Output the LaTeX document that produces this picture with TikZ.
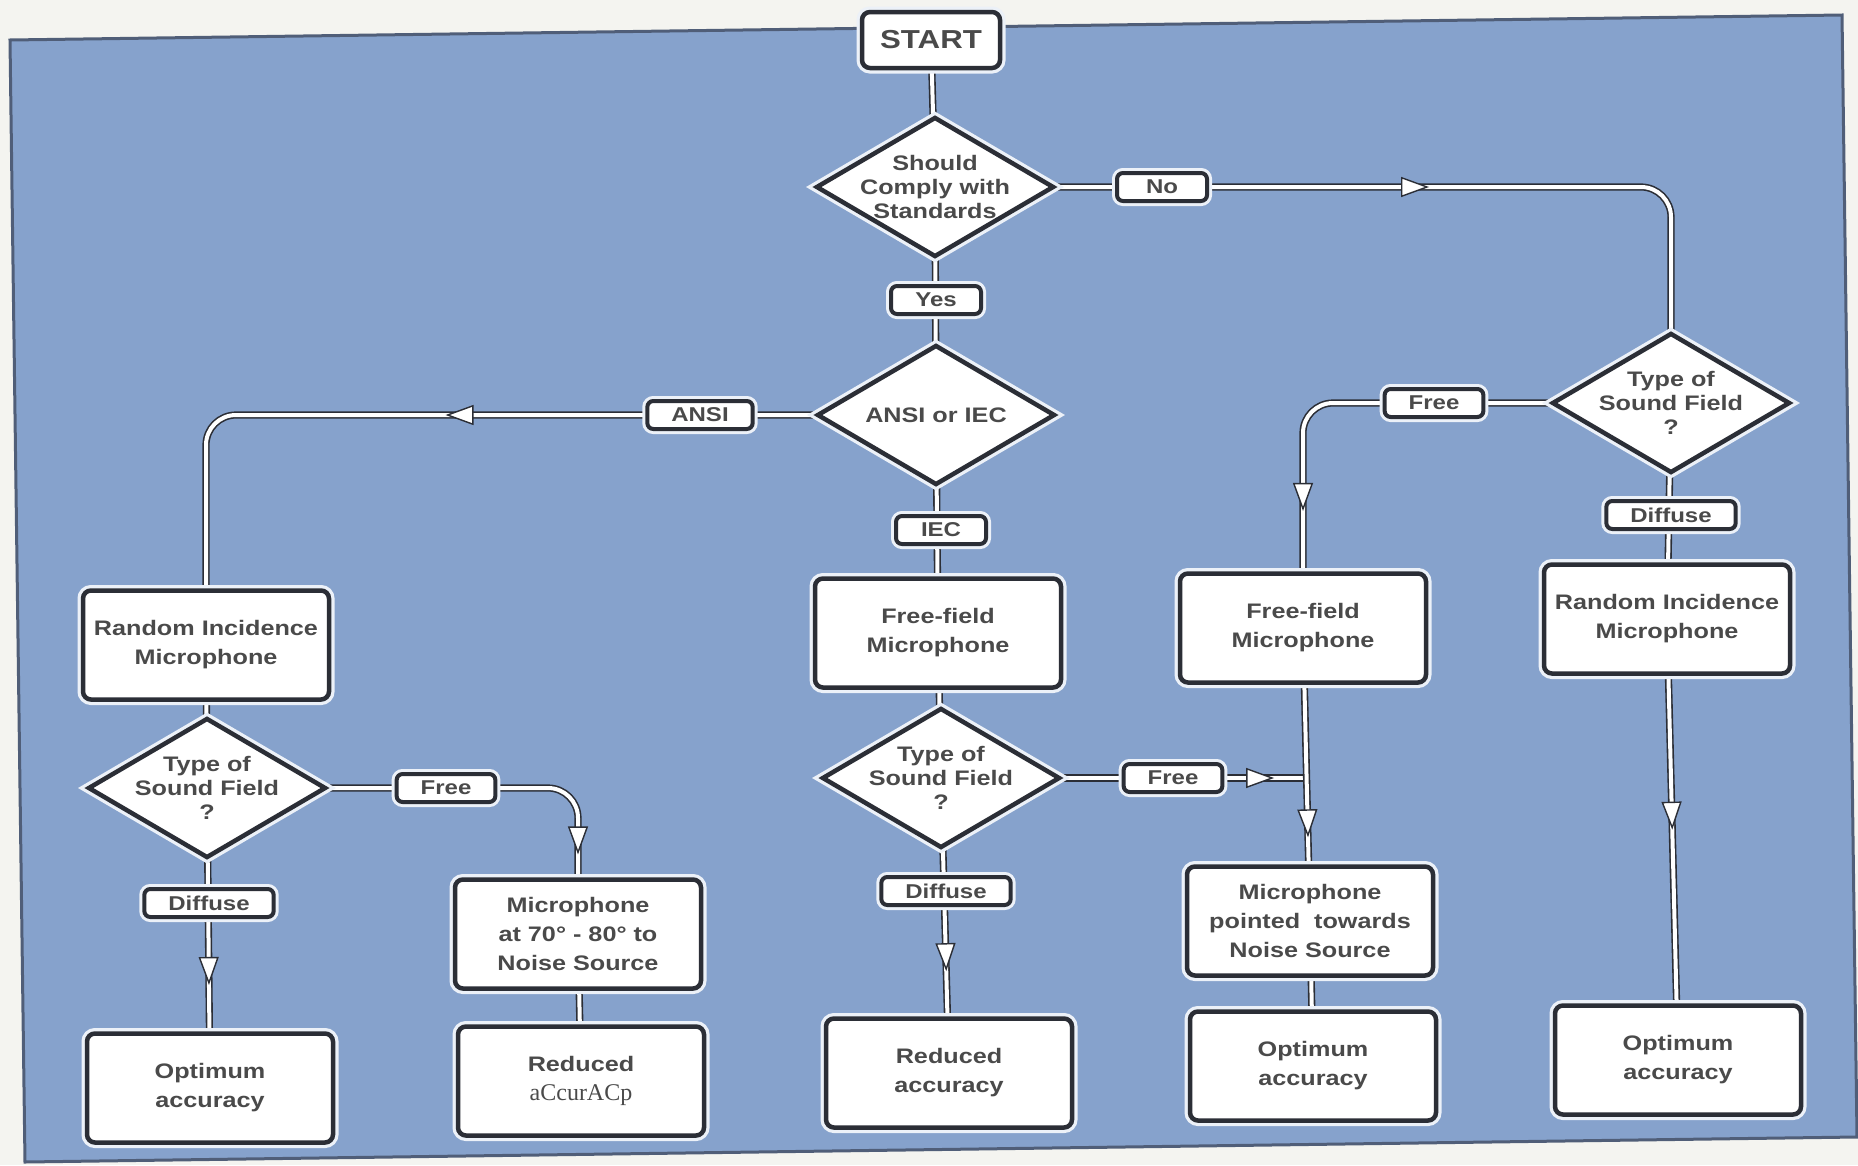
\documentclass[tikz,border=0pt]{standalone}
\usepackage{fontspec}
\setmainfont{Liberation Sans}[FakeStretch=1.2]
\newfontfamily\scanfont{Liberation Serif}
\usetikzlibrary{shapes.geometric,arrows.meta,decorations.markings}
\definecolor{panel}{RGB}{134,162,204}
\definecolor{paper}{RGB}{244,244,240}
\definecolor{rim}{RGB}{80,94,120}
\definecolor{ink}{RGB}{43,46,54}
\definecolor{txt}{RGB}{74,74,74}
\definecolor{halo}{RGB}{236,241,248}
\pgfdeclarelayer{bg}
\pgfsetlayers{bg,main}
\tikzset{
  box/.style={draw=ink, line width=4.5pt, fill=white, rounded corners=8pt,
    preaction={draw=halo, line width=11pt}, minimum width=246pt, minimum height=109pt,
    align=center, text=txt, font=\bfseries\fontsize{21}{29}\selectfont},
  startbox/.style={box, minimum width=138pt, minimum height=56pt,
    font=\bfseries\fontsize{26}{28}\selectfont},
  choice/.style={shape=diamond, aspect=1.7, inner sep=-8pt, draw=ink, line width=4.5pt,
    fill=white, preaction={draw=halo, line width=11pt}, minimum width=238pt,
    minimum height=140pt, align=center, text=txt, font=\bfseries\fontsize{21}{24}\selectfont},
  tag/.style={draw=ink, line width=4pt, fill=white, rounded corners=6pt,
    preaction={draw=halo, line width=10pt}, minimum width=90pt, minimum height=28pt,
    inner xsep=24pt, inner ysep=1pt, text=txt, font=\bfseries\fontsize{20}{22}\selectfont},
  link/.style={draw=ink, line width=1.6pt, double=white, double distance=4pt,
    rounded corners=30pt},
  arrowat/.style={postaction={decorate, decoration={markings,
    mark=at position #1 with {\arrow{Triangle[length=28pt, width=20pt, line width=1.4pt, color=ink, fill=white]}}}}}
}
\begin{document}
\begin{tikzpicture}[x=1pt, y=-1pt]
		%%%%% PANEL %%%%%
		\useasboundingbox (0,0) rectangle (1858,1165);
		\begin{pgfonlayer}{bg}
		\fill[paper] (0,0) rectangle (1858,1165);
		\draw[rim, line width=3pt, fill=panel] (10,40) -- (1842,15) -- (1857,1137) -- (25,1162) -- cycle;
		\end{pgfonlayer}
		
		%%%%% CENTRE %%%%%
		\node[startbox] (start) at (931,40) {START};
		\node[choice] (comply) at (935,187) {Should\\Comply with\\Standards};
		\node[choice] (std) at (936,415) {ANSI or IEC};
		\node[box] (ffC) at (938,633) {Free-field\\Microphone};
		\node[choice] (fieldC) at (941,778) {Type of\\Sound Field\\?};
		\node[box] (redC) at (949,1073) {Reduced\\accuracy};
		
		%%%%% LEFT %%%%%
		\node[box] (riL) at (206,645) {Random Incidence\\Microphone};
		\node[choice] (fieldL) at (207,788) {Type of\\Sound Field\\?};
		\node[box] (optL) at (210,1088) {Optimum\\accuracy};
		\node[box] (angL) at (578,934) {Microphone\\at 70° - 80° to\\Noise Source};
		\node[box] (redL) at (581,1081) {Reduced\\{\scanfont\mdseries\fontsize{24}{29}\selectfont aCcurACp}};
		
		%%%%% RIGHT %%%%%
		\node[choice] (fieldR) at (1671,403) {Type of\\Sound Field\\?};
		\node[box] (riR) at (1667,619) {Random Incidence\\Microphone};
		\node[box] (optR) at (1678,1060) {Optimum\\accuracy};
		\node[box] (ffR) at (1303,628) {Free-field\\Microphone};
		\node[box] (ptR) at (1310,921) {Microphone\\pointed\ \ towards\\Noise Source};
		\node[box] (optM) at (1313,1066) {Optimum\\accuracy};
		
		%%%%% TAGS %%%%%
		\node[tag] (yes) at (936,300) {Yes};
		\node[tag] (no) at (1162,187) {No};
		\node[tag] (ansi) at (700,415) {ANSI};
		\node[tag] (iec) at (941,530) {IEC};
		\node[tag] (freeC) at (1173,778) {Free};
		\node[tag] (diffC) at (946,891) {Diffuse};
		\node[tag] (freeL) at (446,788) {Free};
		\node[tag] (diffL) at (209,903) {Diffuse};
		\node[tag] (freeR) at (1434,403) {Free};
		\node[tag] (diffR) at (1671,515) {Diffuse};
		
		%%%%% LINKS %%%%%
		\begin{pgfonlayer}{bg}
		\draw[link] (start) -- (comply);
		\draw[link] (comply) -- (std);
		\draw[link, arrowat=0.5] (comply.east) -| (fieldR.north);
		\draw[link, arrowat=0.48] (std.west) -| (riL.north);
		\draw[link] (std) -- (ffC);
		\draw[link] (ffC) -- (fieldC);
		\draw[link, arrowat=0.88] (fieldC.east) -- (fieldC.east -| ffR.south);
		\draw[link, arrowat=0.73] (fieldC) -- (redC);
		\draw[link] (riL) -- (fieldL);
		\draw[link, arrowat=0.93] (fieldL.east) -| (angL.north);
		\draw[link, arrowat=0.73] (fieldL) -- (optL);
		\draw[link] (angL) -- (redL);
		\draw[link, arrowat=0.85] (fieldR.west) -| (ffR.north);
		\draw[link] (fieldR) -- (riR);
		\draw[link, arrowat=0.47] (riR) -- (optR);
		\draw[link, arrowat=0.85] (ffR) -- (ptR);
		\draw[link] (ptR) -- (optM);
		\end{pgfonlayer}
	\end{tikzpicture}
\end{document}
